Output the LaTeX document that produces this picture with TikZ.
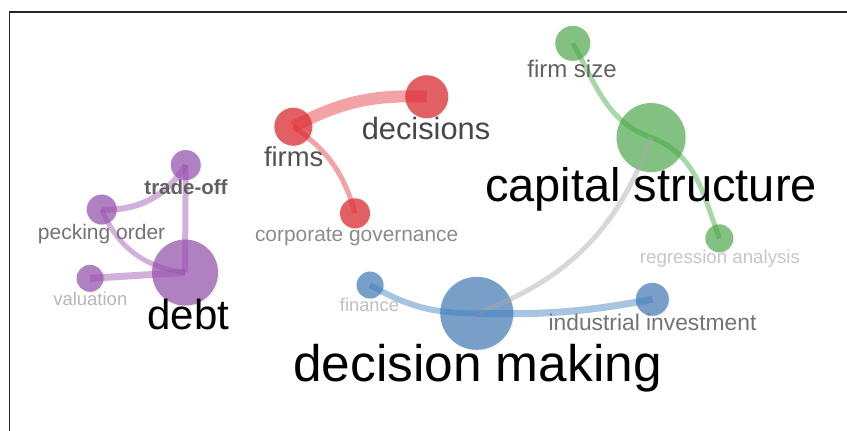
\documentclass[tikz,border=0pt]{standalone}
\usepackage{fontspec}
\setmainfont{Liberation Sans}
\usetikzlibrary{shadows}
\definecolor{cpur}{RGB}{166,110,186}
\definecolor{cpurE}{RGB}{158,80,178}
\definecolor{cred}{RGB}{224,70,76}
\definecolor{credE}{RGB}{229,50,56}
\definecolor{cgrn}{RGB}{112,186,112}
\definecolor{cgrnE}{RGB}{60,170,60}
\definecolor{cblu}{RGB}{98,146,192}
\definecolor{cbluE}{RGB}{60,125,190}
\definecolor{cgryE}{RGB}{170,170,170}
\tikzset{
  bub/.style 2 args={circle, inner sep=0pt, minimum size=#2, fill=#1, fill opacity=0.85, draw=none,
    drop shadow={shadow xshift=1.2pt, shadow yshift=-1.2pt, opacity=0.12}},
  edg/.style 2 args={draw=#1, draw opacity=0.45, line width=#2},
  lbl/.style 2 args={inner sep=0pt, anchor=base, text=#1, font=\fontsize{#2}{#2}\selectfont},
  lblb/.style 2 args={inner sep=0pt, anchor=base, text=#1, font=\fontsize{#2}{#2}\selectfont\bfseries},
  frameline/.style={draw=black!85, line width=1.5pt}
}
\begin{document}
\begin{tikzpicture}[x=1pt,y=1pt]
\useasboundingbox (0,0) rectangle (847,-431);
\fill[white] (0,0) rectangle (847,-431);
\coordinate (fA) at (9.5,-431);
\coordinate (fB) at (9.5,-12);
\coordinate (fC) at (847,-12);
\draw[frameline] (fA) -- (fB) -- (fC);

% bubbles
\node[bub={cpur}{30}] (tradeoff) at (185.7,-165) {};
\node[bub={cpur}{30}] (pecking) at (101.7,-209.5) {};
\node[bub={cpur}{27}] (valuation) at (90,-278.3) {};
\node[bub={cpur}{66}] (debt) at (185,-272.5) {};
\node[bub={cred}{38}] (firms) at (293.3,-126.7) {};
\node[bub={cred}{43}] (decisions) at (426.7,-96.7) {};
\node[bub={cred}{30}] (corpgov) at (355,-213.3) {};
\node[bub={cgrn}{35}] (firmsize) at (572.7,-43.3) {};
\node[bub={cgrn}{69}] (capstruct) at (651,-137.5) {};
\node[bub={cgrn}{28}] (regression) at (719.3,-238.3) {};
\node[bub={cblu}{27}] (finance) at (370,-285) {};
\node[bub={cblu}{73}] (decmaking) at (476.7,-313.3) {};
\node[bub={cblu}{33}] (industrial) at (652.3,-299.3) {};

% edges
\draw[edg={cpurE}{6}] (pecking.center) to[bend right=30] (tradeoff.center);
\draw[edg={cpurE}{6}] (tradeoff.center) -- (debt.center);
\draw[edg={cpurE}{5}] (pecking.center) to[bend right=30] (debt.center);
\draw[edg={cpurE}{7}] (valuation.center) -- (debt.center);
\draw[edg={credE}{12}] (firms.center) to[bend left=15] (decisions.center);
\draw[edg={credE}{5}] (firms.center) to[bend left=20] (corpgov.center);
\draw[edg={cgrnE}{5}] (firmsize.center) to[out=-60,in=160] (capstruct.center);
\draw[edg={cgrnE}{5}] (capstruct.center) to[out=-20,in=110] (regression.center);
\draw[edg={cgryE}{5}] (capstruct.center) to[bend left=25] (decmaking.center);
\draw[edg={cbluE}{6}] (finance.center) to[bend right=15] (decmaking.center);
\draw[edg={cbluE}{7}] (decmaking.center) to[bend right=6] (industrial.center);

% labels
\node[lblb={black!62}{20.5}] (tradeoffL) at (186,-194) {trade-off};
\node[lbl={black!55}{21}] (peckingL) at (101.6,-239) {pecking order};
\node[lbl={black!28}{18.5}] (valuationL) at (90.3,-305.7) {valuation};
\node[lbl={black}{42}] (debtL) at (188.5,-329) {debt};
\node[lbl={black!68}{27.4}] (firmsL) at (293.7,-166.7) {firms};
\node[lbl={black!72}{30.8}] (decisionsL) at (426,-139.5) {decisions};
\node[lbl={black!45}{20.9}] (corpgovL) at (356.7,-241.7) {corporate governance};
\node[lbl={black!62}{24}] (firmsizeL) at (572,-77.7) {firm size};
\node[lbl={black}{47}] (capstructL) at (651,-201.7) {capital structure};
\node[lbl={black!22}{18.7}] (regressionL) at (720,-263.3) {regression analysis};
\node[lbl={black!25}{18.3}] (financeL) at (369.5,-311.7) {finance};
\node[lbl={black}{51.4}] (decmakingL) at (477.5,-381.7) {decision making};
\node[lbl={black!55}{22.8}] (industrialL) at (652.5,-330.7) {industrial investment};
\end{tikzpicture}
\end{document}
